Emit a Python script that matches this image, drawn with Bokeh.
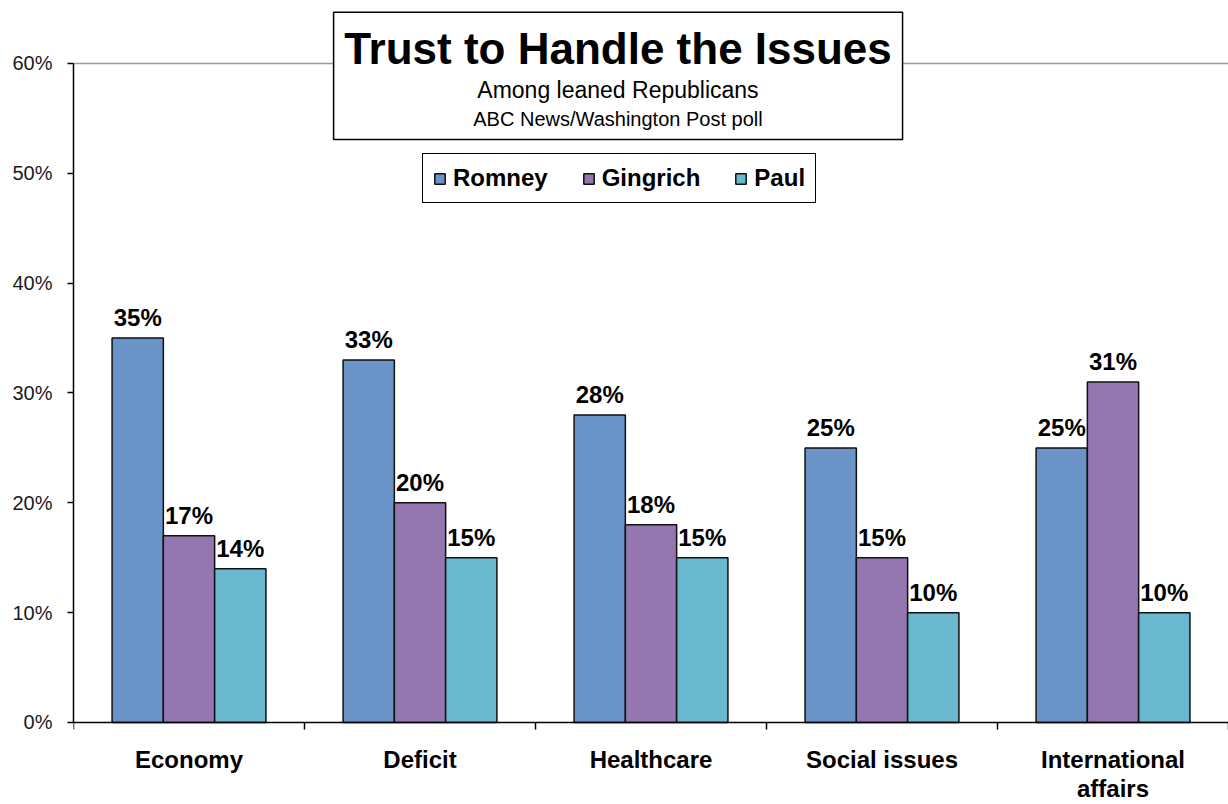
import numpy as np
from bokeh.plotting import figure
from bokeh.models import (ColumnDataSource, Range1d, FixedTicker, PrintfTickFormatter,
                          Span, BoxAnnotation, Label, Legend, LegendItem)
from bokeh.transform import dodge
from bokeh.embed import file_html
from bokeh.resources import INLINE
from bokeh.core.properties import value

# ---- data ----
categories = ["Economy", "Deficit", "Healthcare", "Social issues", "International\naffairs"]
series = ["Romney", "Gingrich", "Paul"]
romney = [35, 33, 28, 25, 25]
gingrich = [17, 20, 18, 15, 31]
paul = [14, 15, 15, 10, 10]
y_ticks = [0, 10, 20, 30, 40, 50, 60]
title = "Trust to Handle the Issues"
subtitle1 = "Among leaned Republicans"
subtitle2 = "ABC News/Washington Post poll"

colors = ["#6A93C7", "#9477B0", "#6AB8CE"]
FONT = "Liberation Sans"

n = len(categories)
xs = np.arange(n) + 0.5
src = ColumnDataSource(dict(
    x=xs,
    Romney=romney, Gingrich=gingrich, Paul=paul,
    Romney_lbl=[f"{v}%" for v in romney],
    Gingrich_lbl=[f"{v}%" for v in gingrich],
    Paul_lbl=[f"{v}%" for v in paul],
))

# frame spans from 65% down below zero so category labels sit inside it
p = figure(width=1228, height=804, output_backend="svg", toolbar_location=None,
           x_range=Range1d(0, n), y_range=Range1d(-7.466, 65),
           x_axis_location=None,
           min_border_left=73, min_border_right=0, min_border_top=8, min_border_bottom=0)
p.outline_line_color = None
p.xgrid.visible = False
p.ygrid.visible = False
p.background_fill_color = "white"
p.border_fill_color = "white"

# top gridline at 60%
p.add_layout(Span(location=60, dimension="width", line_color="#9a9a9a", line_width=1.5,
                  level="underlay"))

bw = 0.222
offsets = [-bw, 0.0, bw]
items = []
for name, col, off in zip(series, colors, offsets):
    r = p.vbar(x=dodge("x", off, range=p.x_range), top=name, width=bw, bottom=0, source=src,
               fill_color=col, line_color="#111111", line_width=1.5)
    p.text(x=dodge("x", off, range=p.x_range), y=name, text=name + "_lbl", source=src,
           text_align="center", text_baseline="bottom", y_offset=-7,
           text_font=value(FONT), text_font_style="bold", text_font_size="24px",
           text_color="black")
    items.append(LegendItem(label=name, renderers=[r]))

# y axis
ya = p.yaxis[0]
ya.ticker = FixedTicker(ticks=y_ticks)
ya.formatter = PrintfTickFormatter(format="%d%%")
ya.bounds = (0, 60)
ya.axis_line_color = "black"
ya.axis_line_width = 1.5
ya.major_tick_line_color = "black"
ya.major_tick_line_width = 1.5
ya.major_tick_out = 6
ya.major_tick_in = 0
ya.minor_tick_line_color = None
ya.major_label_text_font = FONT
ya.major_label_text_font_size = "20px"
ya.major_label_text_color = "#1a1a1a"
ya.major_label_standoff = 15

# category (x) axis line at 0 and boundary tick marks
p.add_layout(Span(location=0, dimension="width", line_color="black", line_width=1.5,
                  level="annotation"))
bounds_x = np.arange(n + 1)
p.segment(x0=bounds_x, y0=np.zeros(n + 1), x1=bounds_x, y1=np.full(n + 1, -0.64),
          line_color="black", line_width=1.5)

# category labels (multi-line split)
line_y = [-3.4, -6.05]
lx, ly, lt = [], [], []
for x, c in zip(xs, categories):
    for k, part in enumerate(c.split("\n")):
        lx.append(float(x)); ly.append(line_y[k]); lt.append(part)
p.text(x=lx, y=ly, text=lt, text_align="center", text_baseline="middle",
       text_font=value(FONT), text_font_style="bold", text_font_size="24px",
       text_color="black")

# title box
p.add_layout(BoxAnnotation(left=1.126, right=3.589, bottom=53.08, top=64.65,
                           fill_color="white", fill_alpha=1.0,
                           line_color="black", line_alpha=1.0, line_width=1.5,
                           level="annotation"))
p.add_layout(Label(x=2.357, y=61.37, text=title, text_align="center", text_baseline="middle",
                   text_font=FONT, text_font_style="bold", text_font_size="44px",
                   text_color="black", level="overlay"))
p.add_layout(Label(x=2.357, y=57.55, text=subtitle1, text_align="center", text_baseline="middle",
                   text_font=FONT, text_font_size="23px", text_color="black", level="overlay"))
p.add_layout(Label(x=2.357, y=54.90, text=subtitle2, text_align="center", text_baseline="middle",
                   text_font=FONT, text_font_size="20px", text_color="black", level="overlay"))

legend = Legend(items=items, orientation="horizontal", location=(349, 601),
                glyph_width=13, glyph_height=13, label_standoff=7, spacing=34,
                padding=10, margin=0,
                label_text_font=FONT, label_text_font_style="bold", label_text_font_size="24px",
                label_text_color="black",
                border_line_color="black", border_line_alpha=1.0, border_line_width=1.5,
                background_fill_color="white", background_fill_alpha=1.0)
p.add_layout(legend, "center")

open("out.html", "w").write(file_html(p, INLINE))
